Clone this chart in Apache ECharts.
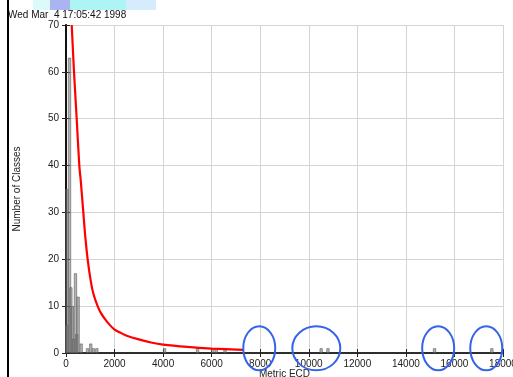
<!DOCTYPE html>
<html>
<head>
<meta charset="utf-8">
<script src="https://cdn.jsdelivr.net/npm/echarts@6/dist/echarts.min.js"></script>
<style>
  html, body { margin: 0; padding: 0; background: #fff; }
  #chart { width: 513px; height: 377px; }
</style>
</head>
<body>
<div id="chart"></div>
<script>
// Histogram of class sizes (bin centre in ECD units, count per bin)
const binCenters = [40, 40, 145, 200, 260, 315, 390, 445, 500, 625, 885, 1020, 1125, 1270,
                    4060, 5420, 6040, 6190, 6550, 10510, 10790, 15180, 17540];
const classCounts = [35, 6, 63, 14, 10, 3, 17, 4, 12, 2, 1, 2, 1, 1,
                     1, 1, 1, 1, 1, 1, 1, 1, 1];

// Fitted distribution curve (ECD, expected number of classes)
const fitEcd = [235, 330, 440, 548, 604, 713, 800, 892, 1015, 1125, 1303, 1450, 1600, 1800,
                2000, 2250, 2500, 3000, 3500, 4000, 5000, 6000, 7300];
const fitCount = [70, 60, 50, 40, 37, 30, 24.5, 20, 15.5, 12.7, 10, 8.4, 7.3, 6.0,
                  5.0, 4.3, 3.7, 2.9, 2.25, 1.8, 1.3, 0.95, 0.65];

// Regions of interest highlighted along the axis (ECD, count)
const markedEcd = [7960, 10310, 15330, 17310];
const markedCount = [1, 1, 1, 1];
const markedRadiusX = [16, 24, 16, 16];

// Axis ticks
const xTicks = { min: 0, max: 18000, step: 2000 };
const yTicks = { min: 0, max: 70, step: 10 };

const FONT = 'Liberation Sans, Arial, sans-serif';
const plainNumber = v => String(v);

const chart = echarts.init(document.getElementById('chart'), null, { renderer: 'canvas' });

const axisBase = {
  type: 'value',
  axisLine: { show: true, lineStyle: { color: '#222', width: 1.5 } },
  axisTick: { show: true, inside: true, length: 4, lineStyle: { color: '#222', width: 1 } },
  splitLine: { show: false }
};

const option = {
  animation: false,
  backgroundColor: '#fff',
  grid: { left: 66, right: 10, top: 25, bottom: 24, containLabel: false, outerBoundsMode: 'none' },
  xAxis: [
    Object.assign({}, axisBase, {
      min: xTicks.min, max: xTicks.max, interval: xTicks.step,
      position: 'bottom',
      name: 'Metric ECD', nameLocation: 'middle', nameGap: 16, nameMoveOverlap: false,
      nameTextStyle: { fontFamily: FONT, fontSize: 10, color: '#222' },
      axisLabel: { fontFamily: FONT, fontSize: 10, color: '#222', margin: 6, formatter: plainNumber },
      splitLine: { show: true, lineStyle: { color: '#d4d4d4', width: 1 } }
    }),
    Object.assign({}, axisBase, {
      min: xTicks.min, max: xTicks.max, interval: xTicks.step,
      position: 'top',
      axisLabel: { show: false }
    })
  ],
  yAxis: [
    Object.assign({}, axisBase, {
      min: yTicks.min, max: yTicks.max, interval: yTicks.step,
      position: 'left',
      name: 'Number of Classes', nameLocation: 'middle', nameGap: 44, nameRotate: 90, nameMoveOverlap: false,
      nameTextStyle: { fontFamily: FONT, fontSize: 10, color: '#222' },
      axisLabel: { fontFamily: FONT, fontSize: 10, color: '#222', margin: 7, formatter: plainNumber },
      splitLine: { show: true, lineStyle: { color: '#d4d4d4', width: 1 } }
    }),
    Object.assign({}, axisBase, {
      min: yTicks.min, max: yTicks.max, interval: yTicks.step,
      position: 'right',
      axisLine: { show: true, lineStyle: { color: '#111', width: 2 } },
      axisLabel: { show: false }
    })
  ],
  series: [
    {
      type: 'bar',
      xAxisIndex: 0, yAxisIndex: 0,
      barWidth: 3,
      data: binCenters.map((x, i) => [x, classCounts[i]]),
      itemStyle: { color: 'rgba(120,120,120,0.55)', borderColor: '#5a5a5a', borderWidth: 0.6 },
      z: 2
    },
    {
      type: 'line',
      xAxisIndex: 0, yAxisIndex: 0,
      data: fitEcd.map((x, i) => [x, fitCount[i]]),
      smooth: 0.3,
      symbol: 'none',
      clip: true,
      lineStyle: { color: '#ff0000', width: 2.2 },
      z: 3
    }
  ]
};

chart.setOption(option);

// Decorations: header strip, timestamp, left rule, and highlight ellipses
function drawOverlay() {
  const ellipses = markedEcd.map((x, i) => {
    const p = chart.convertToPixel({ xAxisIndex: 0, yAxisIndex: 0 }, [x, markedCount[i]]);
    return {
      type: 'ellipse',
      shape: { cx: p[0], cy: p[1], rx: markedRadiusX[i], ry: 22 },
      style: { fill: 'none', stroke: '#3563e9', lineWidth: 2 },
      z: 100
    };
  });
  chart.setOption({
    graphic: [
      { type: 'rect', shape: { x: 33, y: 0, width: 17, height: 10 }, style: { fill: '#dcfafa' } },
      { type: 'rect', shape: { x: 50, y: 0, width: 20, height: 10 }, style: { fill: '#aab4f2' } },
      { type: 'rect', shape: { x: 70, y: 0, width: 56, height: 10 }, style: { fill: '#aef4f4' } },
      { type: 'rect', shape: { x: 126, y: 0, width: 30, height: 10 }, style: { fill: '#d4ecfb' } },
      { type: 'text', x: 8, y: 10, style: { text: 'Wed Mar  4 17:05:42 1998', fontFamily: FONT, fontSize: 10, fill: '#111' } },
      { type: 'rect', shape: { x: 7, y: 0, width: 2, height: 377 }, style: { fill: '#000' }, z: 50 }
    ].concat(ellipses)
  });
}
drawOverlay();
</script>
</body>
</html>
